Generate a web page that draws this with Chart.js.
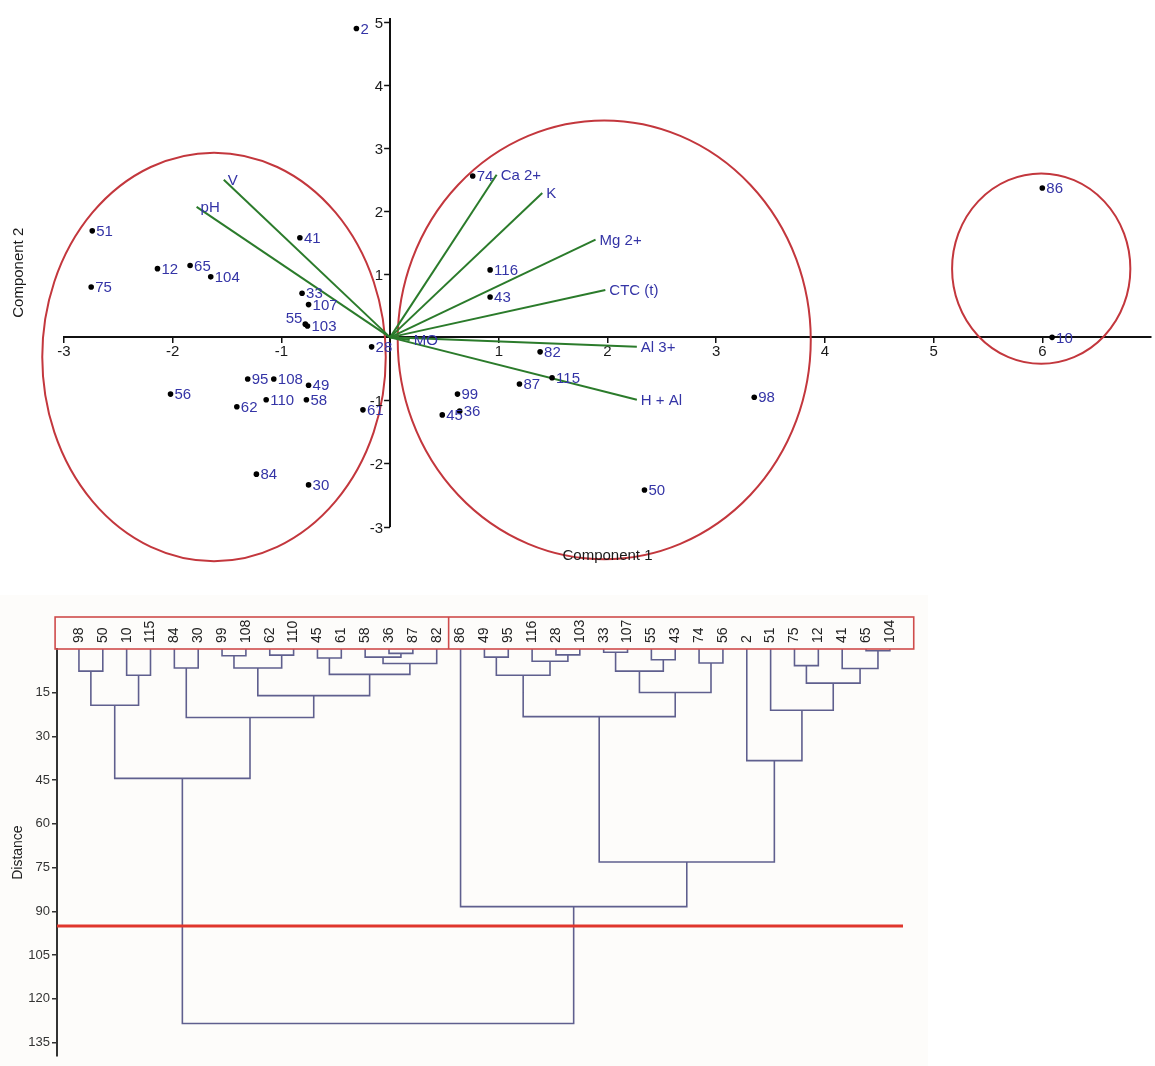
<!DOCTYPE html>
<html>
<head>
<meta charset="utf-8">
<script src="https://cdn.jsdelivr.net/npm/chart.js@4.4.1/dist/chart.umd.min.js"></script>
<style>
  html, body { margin: 0; padding: 0; background: #ffffff; }
  #wrap { position: relative; width: 1155px; height: 1066px; overflow: hidden; }
  canvas { position: absolute; left: 0; }
  #biplot { top: 0; }
  #dendro { top: 590px; }
</style>
</head>
<body>
<div id="wrap">
  <canvas id="biplot" width="1155" height="590"></canvas>
  <canvas id="dendro" width="1155" height="476"></canvas>
</div>
<script>
// ---------- PCA biplot: sample scores ----------
const sampleIds = ['2', '51', '12', '65', '104', '75', '41', '33', '107', '55', '103', '28',
  '95', '108', '49', '56', '62', '110', '58', '61', '84', '30',
  '74', '116', '43', '82', '87', '115', '99', '36', '45', '98', '50', '86', '10'];
const pc1Scores = [-0.31, -2.74, -2.14, -1.84, -1.65, -2.75, -0.83, -0.81, -0.75, -0.78, -0.76, -0.17,
  -1.31, -1.07, -0.75, -2.02, -1.41, -1.14, -0.77, -0.25, -1.23, -0.75,
  0.76, 0.92, 0.92, 1.38, 1.19, 1.49, 0.62, 0.64, 0.48, 3.35, 2.34, 6.00, 6.09];
const pc2Scores = [4.90, 1.69, 1.09, 1.14, 0.96, 0.80, 1.58, 0.70, 0.52, 0.21, 0.18, -0.15,
  -0.66, -0.66, -0.76, -0.90, -1.10, -0.99, -0.99, -1.15, -2.17, -2.34,
  2.56, 1.07, 0.64, -0.23, -0.74, -0.64, -0.90, -1.17, -1.23, -0.95, -2.42, 2.37, 0.00];

// ---------- PCA biplot: variable loadings ----------
const variableNames = ['V', 'pH', 'Ca 2+', 'K', 'Mg 2+', 'CTC (t)', 'Al 3+', 'H + Al', 'MO'];
const loadingPc1 = [-1.53, -1.78, 0.98, 1.40, 1.89, 1.98, 2.27, 2.27, 0.18];
const loadingPc2 = [2.50, 2.07, 2.58, 2.29, 1.55, 0.75, -0.15, -0.99, -0.04];

// ---------- group envelopes (component units) ----------
const groupCenterPc1 = [-1.62, 1.97, 5.99];
const groupCenterPc2 = [-0.31, -0.04, 1.09];
const groupHalfPc1 = [1.58, 1.90, 0.82];
const groupHalfPc2 = [3.24, 3.48, 1.51];

const pc1Ticks = [-3, -2, -1, 1, 2, 3, 4, 5, 6];
const pc2Ticks = [-3, -2, -1, 1, 2, 3, 4, 5];

// ---------- dendrogram ----------
const leafOrder = ['98', '50', '10', '115', '84', '30', '99', '108', '62', '110', '45', '61', '58', '36', '87', '82',
  '86', '49', '95', '116', '28', '103', '33', '107', '55', '43', '74', '56', '2', '51', '75', '12', '41', '65', '104'];
// node ids: 0..34 are leaves (position in leafOrder), 35+k is merge k
const mergeLeft  = [33, 22, 13, 20, 8, 6, 12, 17, 10, 24, 19, 26, 41, 30, 4, 40, 32, 0, 36, 43, 2, 42, 48, 53, 50, 52, 29, 56, 49, 28, 60, 62, 16, 65];
const mergeRight = [34, 23, 14, 21, 9, 7, 37, 18, 11, 25, 38, 27, 15, 31, 5, 39, 35, 1, 44, 47, 3, 45, 51, 46, 54, 55, 57, 58, 59, 61, 63, 64, 66, 67];
const mergeHeight = [0.6, 1.1, 1.5, 2.0, 2.1, 2.3, 2.8, 2.8, 3.1, 3.7, 4.2, 4.8, 5.0, 5.7, 6.5, 6.5, 6.7, 7.6, 7.6, 8.7,
  9.0, 9.0, 11.7, 14.9, 16.0, 19.3, 21.0, 23.2, 23.5, 38.3, 44.4, 73.1, 88.4, 128.5];
const distanceTicks = [15, 30, 45, 60, 75, 90, 105, 120, 135];
const cutDistance = 95;

// ---------- shared styling ----------
const FONT = '"Liberation Sans", Arial, Helvetica, sans-serif';
Chart.defaults.font.family = FONT;
const LABEL_BLUE = '#3434a6';
const VECTOR_GREEN = '#2b7b2b';
const ENVELOPE_RED = '#c3373d';

// ======================= biplot =======================
const biplotDecor = {
  id: 'biplotDecor',
  beforeDatasetsDraw(chart) {
    const { ctx, scales: { x, y } } = chart;
    ctx.save();
    ctx.strokeStyle = ENVELOPE_RED;
    ctx.lineWidth = 2;
    for (let i = 0; i < groupCenterPc1.length; i++) {
      const cx = x.getPixelForValue(groupCenterPc1[i]);
      const cy = y.getPixelForValue(groupCenterPc2[i]);
      const rx = Math.abs(x.getPixelForValue(groupCenterPc1[i] + groupHalfPc1[i]) - cx);
      const ry = Math.abs(y.getPixelForValue(groupCenterPc2[i] + groupHalfPc2[i]) - cy);
      ctx.beginPath();
      ctx.ellipse(cx, cy, rx, ry, 0, 0, Math.PI * 2);
      ctx.stroke();
    }
    ctx.restore();
  },
  afterDatasetsDraw(chart) {
    const { ctx, chartArea, scales: { x, y } } = chart;
    ctx.save();
    ctx.font = '15px ' + FONT;
    ctx.fillStyle = LABEL_BLUE;
    ctx.textBaseline = 'middle';
    // sample labels next to each score point
    const meta = chart.getDatasetMeta(0);
    meta.data.forEach((pt, i) => {
      const id = sampleIds[i];
      if (id === '55') {
        ctx.textAlign = 'right';
        ctx.fillText(id, pt.x - 3, pt.y - 5);
      } else {
        ctx.textAlign = 'left';
        ctx.fillText(id, pt.x + 4, pt.y + 1);
      }
    });
    // variable names at the tips of the loading vectors
    ctx.textAlign = 'left';
    variableNames.forEach((name, i) => {
      const px = x.getPixelForValue(loadingPc1[i]);
      const py = y.getPixelForValue(loadingPc2[i]);
      ctx.fillText(name, px + 4, py + 1);
    });
    // component titles
    ctx.fillStyle = '#1a1a1a';
    ctx.textAlign = 'center';
    ctx.fillText('Component 1', (chartArea.left + chartArea.right) / 2, chartArea.bottom + 29);
    ctx.save();
    ctx.translate(19, (chartArea.top + chartArea.bottom) / 2);
    ctx.rotate(-Math.PI / 2);
    ctx.fillText('Component 2', 0, 0);
    ctx.restore();
    ctx.restore();
  },
  afterDraw(chart) {
    // Component 2 ticks: marks and labels on the left of the vertical axis
    const { ctx, scales: { x, y } } = chart;
    const axisX = x.getPixelForValue(0);
    ctx.save();
    ctx.strokeStyle = '#111';
    ctx.lineWidth = 1.5;
    ctx.fillStyle = '#1a1a1a';
    ctx.font = '15px ' + FONT;
    ctx.textAlign = 'right';
    ctx.textBaseline = 'middle';
    y.ticks.forEach(t => {
      const py = Math.round(y.getPixelForValue(t.value)) + 0.5;
      ctx.beginPath();
      ctx.moveTo(axisX - 6, py);
      ctx.lineTo(axisX, py);
      ctx.stroke();
      ctx.fillText(String(t.value), axisX - 7, py + 1);
    });
    ctx.restore();
  }
};

const scoreData = sampleIds.map((id, i) => ({ x: pc1Scores[i], y: pc2Scores[i] }));
const vectorSets = variableNames.map((name, i) => ({
  type: 'line',
  label: name,
  data: [{ x: 0, y: 0 }, { x: loadingPc1[i], y: loadingPc2[i] }],
  borderColor: VECTOR_GREEN,
  borderWidth: 2,
  pointRadius: 0,
  fill: false,
  tension: 0
}));

new Chart(document.getElementById('biplot'), {
  type: 'scatter',
  data: {
    datasets: [
      {
        label: 'scores',
        data: scoreData,
        pointRadius: 2.8,
        pointBackgroundColor: '#000',
        pointBorderColor: '#000',
        pointBorderWidth: 0
      },
      ...vectorSets
    ]
  },
  options: {
    responsive: false,
    animation: false,
    devicePixelRatio: 1,
    layout: { padding: { left: 64, right: 1, top: 19, bottom: 63.5 } },
    plugins: { legend: { display: false }, tooltip: { enabled: false } },
    scales: {
      x: {
        type: 'linear', min: -3, max: 7,
        position: { y: 0 },
        afterBuildTicks: s => { s.ticks = pc1Ticks.map(v => ({ value: v })); },
        grid: { drawOnChartArea: false, drawTicks: true, tickLength: 5, color: '#111', lineWidth: 1.5 },
        border: { display: true, color: '#111', width: 2 },
        ticks: { color: '#1a1a1a', font: { size: 15 }, padding: 0, maxRotation: 0, autoSkip: false }
      },
      y: {
        type: 'linear', min: -3, max: 5.05,
        position: { x: 0 },
        afterBuildTicks: s => { s.ticks = pc2Ticks.map(v => ({ value: v })); },
        grid: { drawOnChartArea: false, drawTicks: false },
        border: { display: true, color: '#111', width: 2 },
        ticks: { display: false, autoSkip: false }
      }
    }
  },
  plugins: [biplotDecor]
});

// ======================= dendrogram =======================
const nLeaves = leafOrder.length;
const nodeX = leafOrder.map((_, i) => i);
const nodeH = leafOrder.map(() => 0);
mergeLeft.forEach((a, k) => {
  const b = mergeRight[k];
  nodeX.push((nodeX[a] + nodeX[b]) / 2);
  nodeH.push(mergeHeight[k]);
});

const LINK_COLOR = '#5f5f8e';
const linkSets = mergeLeft.map((a, k) => {
  const b = mergeRight[k];
  const h = mergeHeight[k];
  return {
    label: 'link' + k,
    data: [
      { x: nodeX[a], y: nodeH[a] },
      { x: nodeX[a], y: h },
      { x: nodeX[b], y: h },
      { x: nodeX[b], y: nodeH[b] }
    ],
    showLine: true,
    borderColor: LINK_COLOR,
    borderWidth: 1.6,
    pointRadius: 0,
    tension: 0,
    fill: false
  };
});

const X_MIN = -0.92, X_MAX = 34.55;

const dendroDecor = {
  id: 'dendroDecor',
  beforeDraw(chart) {
    const { ctx } = chart;
    ctx.save();
    ctx.fillStyle = '#fdfcfa';
    ctx.fillRect(0, 5, 928, chart.height - 5);
    ctx.restore();
  },
  afterDraw(chart) {
    const { ctx, chartArea, scales: { x } } = chart;
    ctx.save();
    // leaf label frame
    const boxL = x.getPixelForValue(-1);
    const boxR = x.getPixelForValue(nLeaves);
    const boxT = chartArea.top - 32;
    const boxB = chartArea.top;
    const divider = x.getPixelForValue(15.5);
    ctx.strokeStyle = '#cf4b4b';
    ctx.lineWidth = 1.6;
    ctx.strokeRect(boxL, boxT, boxR - boxL, boxB - boxT);
    ctx.beginPath();
    ctx.moveTo(divider, boxT);
    ctx.lineTo(divider, boxB);
    ctx.stroke();
    // leaf labels
    ctx.fillStyle = '#222';
    ctx.font = '14px ' + FONT;
    ctx.textAlign = 'left';
    ctx.textBaseline = 'middle';
    leafOrder.forEach((lab, i) => {
      ctx.save();
      ctx.translate(x.getPixelForValue(i), chartArea.top - 6);
      ctx.rotate(-Math.PI / 2);
      ctx.fillText(lab, 0, 0);
      ctx.restore();
    });
    ctx.restore();
  }
};

new Chart(document.getElementById('dendro'), {
  type: 'scatter',
  data: {
    datasets: [
      {
        label: 'cut',
        data: [{ x: X_MIN, y: cutDistance }, { x: X_MAX, y: cutDistance }],
        showLine: true,
        borderColor: '#e0362c',
        borderWidth: 3,
        pointRadius: 0,
        fill: false
      },
      ...linkSets
    ]
  },
  options: {
    responsive: false,
    animation: false,
    devicePixelRatio: 1,
    layout: { padding: { left: 0, right: 252, top: 59, bottom: 0 } },
    plugins: { legend: { display: false }, tooltip: { enabled: false } },
    scales: {
      x: { type: 'linear', min: X_MIN, max: X_MAX, display: false },
      y: {
        type: 'linear', reverse: true, min: 0, max: 139.7,
        position: 'left',
        afterFit: s => { s.width = 57; },
        afterBuildTicks: s => { s.ticks = distanceTicks.map(v => ({ value: v })); },
        grid: { drawOnChartArea: false, drawTicks: true, tickLength: 5, color: '#333', lineWidth: 1.5 },
        border: { display: true, color: '#333', width: 2 },
        ticks: { color: '#333', font: { size: 13 }, padding: 2, autoSkip: false },
        title: { display: true, text: 'Distance', color: '#222', font: { size: 14 }, padding: { top: 10, bottom: 0 } }
      }
    }
  },
  plugins: [dendroDecor]
});
</script>
</body>
</html>
